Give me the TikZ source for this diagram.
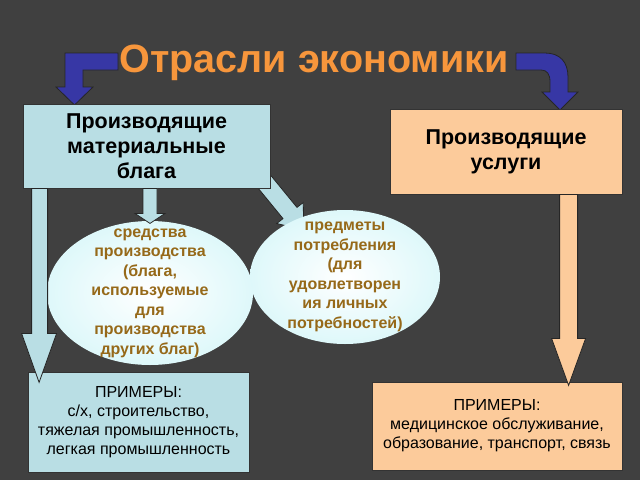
\documentclass[tikz,border=0pt]{standalone}
\usepackage{fontspec}
\setmainfont{Liberation Sans}
\usetikzlibrary{calc, shapes.geometric}

\definecolor{slide}{RGB}{64,64,64}
\definecolor{titleorange}{RGB}{247,150,60}
\definecolor{goodsblue}{RGB}{185,222,228}
\definecolor{servpeach}{RGB}{252,203,155}
\definecolor{arrowblue}{RGB}{55,55,165}
\definecolor{ovalbrown}{RGB}{150,105,25}
\definecolor{ovalcyan}{RGB}{222,248,250}

\begin{document}
\begin{tikzpicture}[x=1pt, y=-1pt,
    box/.style={draw=black!80, line width=0.8pt, rectangle, inner sep=0pt, align=center},
    headfont/.style={font=\fontsize{21.5}{25}\selectfont\bfseries},
    exfont/.style={font=\fontsize{16}{19}\selectfont},
    oval/.style={ellipse, inner sep=0pt, shading=radial, inner color=white, outer color=ovalcyan},
    ovaltext/.style={text=ovalbrown, align=center, inner sep=0pt, font=\fontsize{16}{19.5}\selectfont\bfseries},
    blockarrow/.style={draw=black!85, line width=0.8pt, line join=miter}]

    \fill[slide] (0,0) rectangle (640,480);
    \useasboundingbox (0,0) rectangle (640,480);

    \node[text=titleorange, font=\fontsize{39.5}{44}\selectfont\bfseries] (title) at (314,63) {Отрасли экономики};

    \draw[blockarrow, fill=arrowblue] (118,53) -- (65,53) -- (65,87) -- (56,87) -- (74.5,105)
        -- (93,87) -- (83,87) -- (83,70) -- (118,70) -- cycle;
    \draw[blockarrow, fill=arrowblue] (516,53) -- (545,53) .. controls (560,53) and (568,62) .. (568,77)
        -- (568,92) -- (578,92) -- (560,110) -- (542,92) -- (550,92) -- (550,82)
        .. controls (550,74) and (547,70) .. (541,70) -- (516,70) -- cycle;

    \draw[blockarrow, fill=goodsblue] (256,185.6) -- (283,218.6) -- (276.7,223.5) -- (303.6,230)
        -- (303.3,202.5) -- (297,207.4) -- (270,174.4) -- cycle;

    \node[box, headfont, fill=goodsblue, minimum width=247pt, minimum height=84pt] (goods) at (146.5,146)
        {Производящие\\материальные\\блага};
    \node[box, headfont, fill=servpeach, minimum width=232pt, minimum height=85pt] (serv) at (506,151.5)
        {Производящие\\услуги};

    \node[oval, minimum width=190pt, minimum height=134pt] (consumer) at (345,277) {};
    \node[ovaltext] (consumertext) at (consumer) {предметы\\потребления\\(для\\удовлетворен\\ия личных\\потребностей)};
    \node[oval, minimum width=206pt, minimum height=144pt] (means) at (150,293) {};
    \node[ovaltext] (meanstext) at (means) {средства\\производства\\(блага,\\используемые\\для\\производства\\других благ)};

    \draw[blockarrow, fill=goodsblue] ($(goods.south)+(-3.5,0)$) -- ++(0,25) -- ++(-8,0) -- ++(15,10)
        -- ++(15,-10) -- ++(-8,0) -- ++(0,-25) -- cycle;

    \node[box, exfont, fill=goodsblue, minimum width=221pt, minimum height=100pt] (goodsex) at (138.5,422)
        {ПРИМЕРЫ:\\с/х, строительство,\\тяжелая промышленность,\\легкая промышленность};
    \node[box, exfont, fill=servpeach, minimum width=250pt, minimum height=88pt] (servex) at (497,426)
        {ПРИМЕРЫ:\\медицинское обслуживание,\\образование, транспорт, связь};

    \draw[blockarrow, fill=goodsblue] ($(goods.south west)+(9,0)$) -- ++(0,145) -- ++(-10,0) -- ++(17.5,49)
        -- ++(17.5,-49) -- ++(-9,0) -- ++(0,-145) -- cycle;
    \draw[blockarrow, fill=servpeach] ($(serv.south west)+(170,0)$) -- ++(0,144) -- ++(-8,0) -- ++(17,47)
        -- ++(17,-47) -- ++(-8,0) -- ++(0,-144) -- cycle;
\end{tikzpicture}
\end{document}
